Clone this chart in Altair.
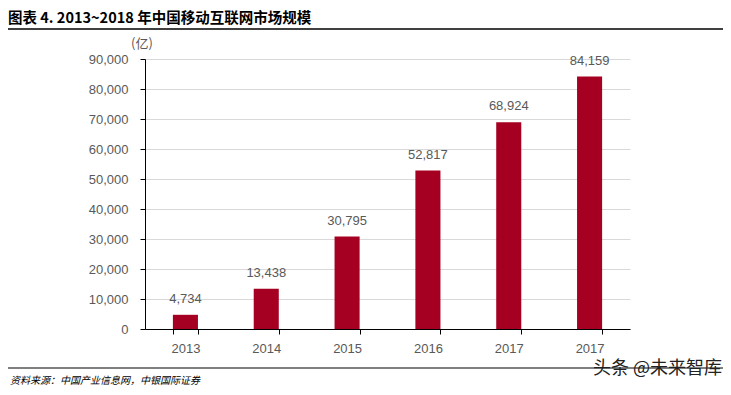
import altair as alt
import pandas as pd

years = ["2013", "2014", "2015", "2016", "2017", "2017"]
values = [4734, 13438, 30795, 52817, 68924, 84159]
title_text = "图表 4. 2013~2018 年中国移动互联网市场规模"
source_text = "资料来源：中国产业信息网，中银国际证券"
watermark_text = "头条 @未来智库"
unit_text = "(亿)"

keys = [f"{y}#{i}" for i, y in enumerate(years)]
df = pd.DataFrame({"key": keys, "value": values})

W, H = 485, 270
PL, PT = 137, 51
TOTAL_W, TOTAL_H = 715, 379

x_enc = alt.X(
    "key:N", sort=None, title=None,
    scale=alt.Scale(paddingInner=0.69, paddingOuter=0.345),
    axis=alt.Axis(
        labelExpr="split(datum.label, '#')[0]",
        labelAngle=0, tickBand="extent", tickSize=5, labelPadding=8,
        domainColor="#000000", tickColor="#000000", grid=False,
        labelColor="#595959", labelFontSize=13, labelFont="Liberation Sans",
    ),
)
y_enc = alt.Y(
    "value:Q", title=None,
    scale=alt.Scale(domain=[0, 90000], nice=False),
    axis=alt.Axis(
        values=list(range(0, 90001, 10000)), format=",.0f",
        tickSize=5, labelPadding=12, domainColor="#000000", tickColor="#000000",
        gridColor="#D9D9D9", grid=True,
        labelColor="#595959", labelFontSize=13, labelFont="Liberation Sans",
    ),
)

base = alt.Chart(df)
bars = base.mark_bar(color="#A50021").encode(x=x_enc, y=y_enc)
labels = base.mark_text(
    dy=-9, baseline="bottom", fontSize=13, font="Liberation Sans", color="#595959"
).encode(x=x_enc, y=y_enc, text=alt.Text("value:Q", format=",.0f"))

def single(t):
    return alt.Chart(pd.DataFrame({"t": [t]}))

title = single(title_text).mark_text(
    align="left", baseline="middle", fontSize=14.5, fontWeight="bold",
    font="Noto Sans CJK SC", color="#000000"
).encode(x=alt.value(-137), y=alt.value(-40), text="t:N")

unit = single(unit_text).mark_text(
    align="center", baseline="middle", fontSize=13, font="Noto Sans CJK SC", color="#595959"
).encode(x=alt.value(-3), y=alt.value(-15), text="t:N")

top_rule = single("r").mark_rule(color="#000000", strokeWidth=1.5).encode(
    x=alt.value(-137), x2=alt.value(TOTAL_W - PL), y=alt.value(-30)
)
bottom_rule = single("r").mark_rule(color="#000000", strokeWidth=1).encode(
    x=alt.value(-137), x2=alt.value(TOTAL_W - PL), y=alt.value(309)
)

source = single(source_text).mark_text(
    align="left", baseline="middle", fontSize=10, fontStyle="italic",
    font="Noto Sans CJK SC", color="#000000"
).encode(x=alt.value(-135), y=alt.value(322), text="t:N")

watermark = single(watermark_text).mark_text(
    align="right", baseline="middle", fontSize=18,
    font="Noto Sans CJK SC", color="#222222"
).encode(x=alt.value(577), y=alt.value(310), text="t:N")

chart = alt.layer(
    bars, labels, title, unit, top_rule, bottom_rule, source, watermark
).properties(
    width=W, height=H,
    autosize=alt.AutoSizeParams(type="none"),
    padding={"left": PL, "top": PT, "right": TOTAL_W - PL - W, "bottom": TOTAL_H - PT - H},
).configure_view(stroke=None)

chart.save("out.html", embed_options={"renderer": "svg", "actions": False})
